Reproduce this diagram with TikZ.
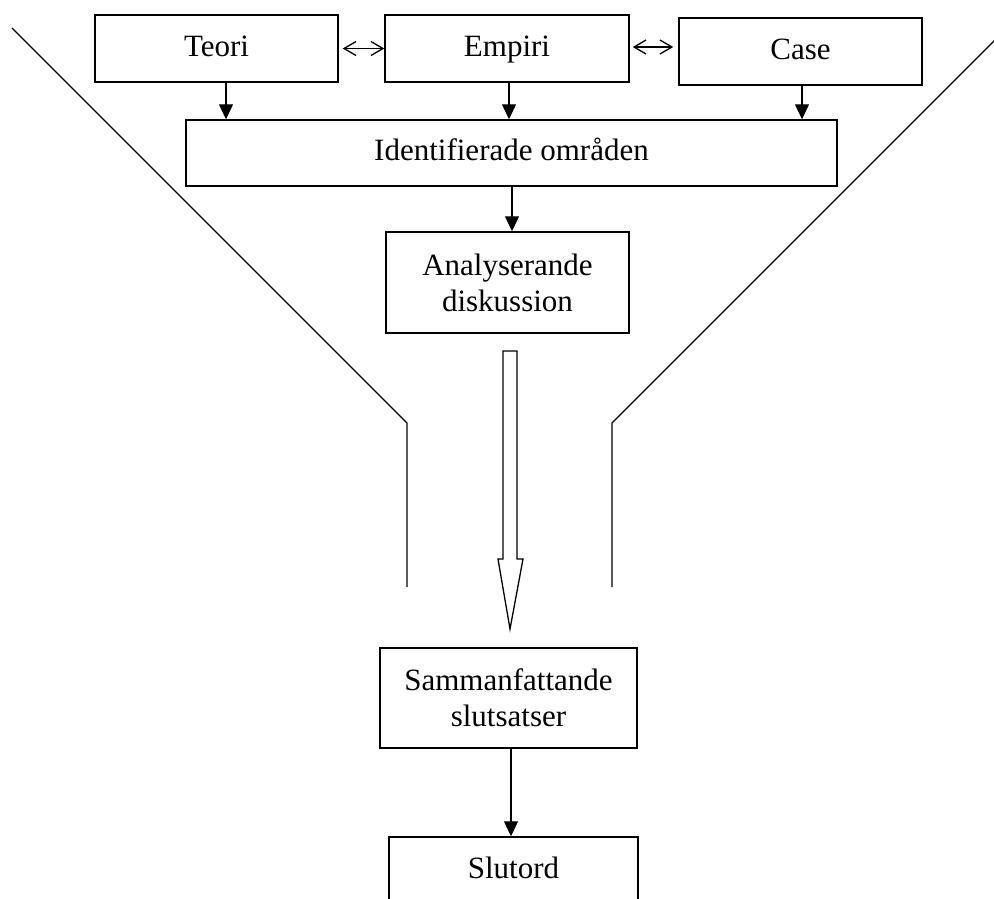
\documentclass[tikz,border=0pt]{standalone}
\usepackage{fontspec}
\setmainfont{Liberation Serif}
\usetikzlibrary{arrows.meta}
\begin{document}
\begin{tikzpicture}[x=1pt,y=-1pt,
  frame/.style={draw,line width=1.5pt,inner sep=0pt,
    font=\fontsize{31}{36}\selectfont},
  oneline/.style={frame,text height=21.7pt,text depth=6.2pt},
  twoline/.style={frame,align=center},
  flow/.style={line width=1.3pt,-{Triangle[length=15pt,width=14pt]}},
  link/.style={line width=1.3pt,
    {Straight Barb[length=12pt,width=14pt]}-{Straight Barb[length=12pt,width=14pt]}},
  wall/.style={line width=1.3pt},
  hollow/.style={line width=1.3pt,line join=miter,fill=white}]
\clip (0,0) rectangle (994,898);

% sources
\node[oneline,minimum width=243pt,minimum height=67pt] (teori)  at (216.5,48.5) {Teori};
\node[oneline,minimum width=244pt,minimum height=67pt] (empiri) at (507,48.5)   {Empiri};
\node[oneline,minimum width=243pt,minimum height=67pt] (case)   at (800.5,51.5) {Case};

% stages
\node[oneline,minimum width=651pt,minimum height=66pt] (ident)  at (511.5,153)  {Identifierade områden};
\node[twoline,minimum width=243pt,minimum height=101pt] (analys) at (507.5,282.5) {Analyserande\\diskussion};
\node[twoline,minimum width=257pt,minimum height=100pt] (samman) at (508.5,698) {Sammanfattande\\slutsatser};
\node[oneline,minimum width=249pt,minimum height=67pt] (slut)   at (513.5,870.5) {Slutord};

% links between sources
\draw[link,shorten <=4pt] (teori.east) -- (empiri.west);
\draw[link,shorten <=3pt,shorten >=5pt] ([yshift=1.5pt]empiri.east) -- ([yshift=1.5pt]empiri.east -| case.west);

% flow downwards
\draw[flow] ([xshift=9.5pt]teori.south) -- ([xshift=9.5pt]teori.south |- ident.north);
\draw[flow] ([xshift=2pt]empiri.south) -- ([xshift=2pt]empiri.south |- ident.north);
\draw[flow] ([xshift=1.5pt]case.south) -- ([xshift=1.5pt]case.south |- ident.north);
\draw[flow] ([xshift=4.5pt]analys.north |- ident.south) -- ([xshift=4.5pt]analys.north);
\draw[flow] ([xshift=2.5pt]samman.south) -- ([xshift=2.5pt]samman.south |- slut.north);

% funnel walls
\draw[wall] (12,28) -- (407,423) -- (407,587);
\draw[wall] (1010,25) -- (612,423) -- (612,587);

% broad hollow arrow through the funnel
\draw[hollow] (503,351) -- (517,351) -- (517,559) -- (523,559) -- (510,629)
  -- (498,559) -- (503,559) -- cycle;
\end{tikzpicture}
\end{document}
